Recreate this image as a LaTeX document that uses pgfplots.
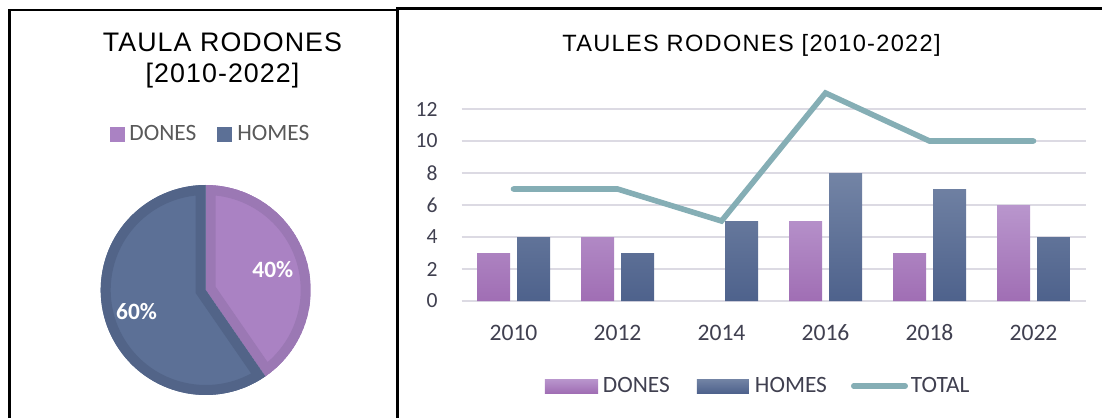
\documentclass[border=0pt]{standalone}
\usepackage{pgfplots}
\pgfplotsset{compat=1.18}
\usepackage{fontspec}
\setmainfont{Carlito}
\newfontfamily\titlefontA[LetterSpace=4]{Liberation Sans}
\newfontfamily\titlefontB[LetterSpace=5.5]{Liberation Sans}
\definecolor{dTop}{RGB}{185,150,205}
\definecolor{dBot}{RGB}{160,110,180}
\definecolor{hTop}{RGB}{115,132,165}
\definecolor{hBot}{RGB}{78,98,140}
\definecolor{totC}{RGB}{133,174,181}
\definecolor{gridC}{RGB}{220,218,227}
\definecolor{tickC}{RGB}{64,64,80}
\definecolor{legC}{RGB}{89,89,89}
\definecolor{pD}{RGB}{170,130,195}
\definecolor{pDe}{RGB}{155,120,180}
\definecolor{pH}{RGB}{92,112,150}
\definecolor{pHe}{RGB}{82,100,136}
% pie data: totals 2010-2022
\def\SumD{21}
\def\SumH{31}
\pgfmathsetmacro{\angD}{360*\SumD/(\SumD+\SumH)}
\pgfmathsetmacro{\angH}{360-\angD}
\pgfmathsetmacro{\midD}{90-\angD/2}
\pgfmathsetmacro{\midH}{90-\angD-\angH/2}
\pgfmathsetmacro{\startH}{90-\angD}
\begin{document}
\begin{tikzpicture}
\useasboundingbox (0,0) rectangle (551pt,209pt);
% frames
\draw[line width=1.3pt, black] (4.85pt,0) -- (4.85pt,204pt) -- (198.75pt,204pt);
\draw[line width=1.3pt, black] (198.75pt,0) -- (198.75pt,204.85pt) -- (551pt,204.85pt);
% titles
\node[anchor=base, inner sep=0pt, font=\titlefontA\fontsize{13.4pt}{15pt}\selectfont] at (111.25pt,183.15pt) {TAULA RODONES};
\node[anchor=base, inner sep=0pt, font=\titlefontA\fontsize{13.4pt}{15pt}\selectfont] at (111.25pt,167.85pt) {[2010-2022]};
\node[anchor=base, inner sep=0pt, font=\titlefontB\fontsize{11.8pt}{13pt}\selectfont] at (375.75pt,183.15pt) {TAULES RODONES [2010-2022]};
% pie
\begin{axis}[at={(102.85pt,64pt)}, anchor=center, scale only axis,
  width=105pt, height=105pt, xmin=-1, xmax=1, ymin=-1, ymax=1,
  hide axis, clip=false,
  legend columns=2,
  legend style={at={(0.0443,1.243)}, anchor=west, draw=none, fill=none,
    inner sep=0pt, outer sep=0pt, column sep=0pt,
    nodes={inner sep=0pt, text=legC, font=\fontsize{11.7pt}{14pt}\selectfont}}]
\addlegendimage{legend image code/.code={\path[draw=none,fill=none] (0pt,0pt) -- (9.5pt,0pt); \fill[pD] (0pt,-3.5pt) rectangle (7pt,3.5pt);}}
\addlegendentry{DONES}
\addlegendimage{legend image code/.code={\path[draw=none,fill=none] (-10.5pt,0pt) -- (10pt,0pt); \fill[pH] (0pt,-3.5pt) rectangle (7pt,3.5pt);}}
\addlegendentry{HOMES}
\begin{scope}
\clip (axis cs:0,0) -- (axis cs:0,1) arc[start angle=90, delta angle=-\angD, radius=52.5pt] -- cycle;
\filldraw[fill=pD, draw=pDe, line width=10pt] (axis cs:0,0) -- (axis cs:0,1) arc[start angle=90, delta angle=-\angD, radius=52.5pt] -- cycle;
\end{scope}
\begin{scope}
\clip (axis cs:0,0) -- (axis cs:{cos(\startH)},{sin(\startH)}) arc[start angle=\startH, delta angle=-\angH, radius=52.5pt] -- cycle;
\filldraw[fill=pH, draw=pHe, line width=10pt] (axis cs:0,0) -- (axis cs:{cos(\startH)},{sin(\startH)}) arc[start angle=\startH, delta angle=-\angH, radius=52.5pt] -- cycle;
\end{scope}
\node[text=white, font=\bfseries\fontsize{11.7pt}{14pt}\selectfont] at (axis cs:{0.67*cos(\midD)},{0.67*sin(\midD)}) {40\%};
\node[text=white, font=\bfseries\fontsize{11.7pt}{14pt}\selectfont] at (axis cs:{0.69*cos(\midH)},{0.69*sin(\midH)}) {60\%};
\end{axis}
% bar chart
\begin{axis}[at={(230.75pt,58.5pt)}, anchor=south west, scale only axis,
  width=312pt, height=104pt, xmin=-0.5, xmax=5.5, ymin=0, ymax=13, clip=false,
  axis line style={draw=none}, major tick length=0pt, tick style={draw=none},
  ytick={0,2,...,12}, ymajorgrids, grid style={line width=1pt, color=gridC},
  xtick={0,1,2,3,4,5}, xticklabels={2010,2012,2014,2016,2018,2022},
  /pgf/number format/assume math mode=true,
  yticklabel style={font=\fontsize{10.8pt}{12pt}\selectfont, text=tickC, anchor=east, inner sep=0pt, xshift=-11.75pt},
  xticklabel style={font=\fontsize{11.8pt}{14pt}\selectfont, text=tickC, anchor=center, inner sep=0pt, yshift=-15.75pt},
  legend columns=3,
  legend style={at={(0.1338,-0.4087)}, anchor=west, draw=none, fill=none,
    inner sep=0pt, outer sep=0pt, column sep=0pt,
    nodes={inner sep=0pt, text=tickC, font=\fontsize{11.7pt}{14pt}\selectfont}}]
\addplot[ybar, bar width=16.5pt, bar shift=-10pt, draw=none, top color=dTop, bottom color=dBot,
  legend image code/.code={\path[draw=none,fill=none] (0pt,0pt) -- (29pt,0pt); \fill[top color=dTop, bottom color=dBot] (0pt,-3.5pt) rectangle (26.5pt,3.5pt);}]
  coordinates {(0,3) (1,4) (3,5) (4,3) (5,6)};
\addlegendentry{DONES}
\addplot[ybar, bar width=16.5pt, bar shift=10pt, draw=none, top color=hTop, bottom color=hBot,
  legend image code/.code={\path[draw=none,fill=none] (-13.5pt,0pt) -- (29pt,0pt); \fill[top color=hTop, bottom color=hBot] (0pt,-3.5pt) rectangle (26pt,3.5pt);}]
  coordinates {(0,4) (1,3) (2,5) (3,8) (4,7) (5,4)};
\addlegendentry{HOMES}
\addplot[sharp plot, no marks, color=totC, line width=2.8pt, line cap=round,
  legend image code/.code={\path[draw=none,fill=none] (-12pt,0pt) -- (30pt,0pt); \draw[totC, line width=2.8pt, line cap=round] (1.4pt,0pt) -- (27.1pt,0pt);}]
  coordinates {(0,7) (1,7) (2,5) (3,13) (4,10) (5,10)};
\addlegendentry{TOTAL}
\end{axis}
\end{tikzpicture}
\end{document}
